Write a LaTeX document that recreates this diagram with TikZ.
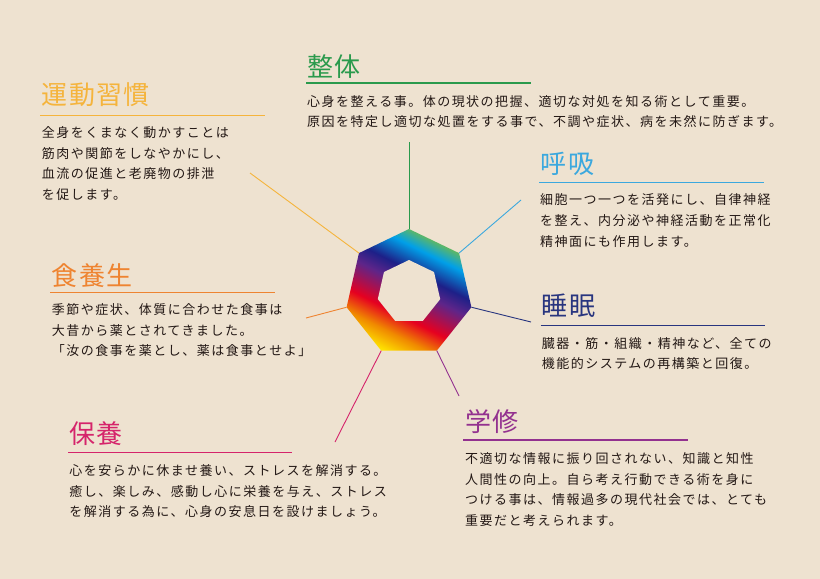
\documentclass[tikz,border=0pt]{standalone}
\usepackage{fontspec}
\setmainfont{Noto Sans CJK JP}
\newfontfamily\headfont[LetterSpace=5]{Noto Sans CJK JP}
\newfontfamily\bodyfont[LetterSpace=11.5]{Noto Sans CJK JP}
\usetikzlibrary{shapes.geometric}

\definecolor{bg}{HTML}{EEE2D0}
\definecolor{ink}{HTML}{231815}
\definecolor{cSeitai}{HTML}{2A9A4C}
\definecolor{cUndo}{HTML}{F5B43C}
\definecolor{cKokyu}{HTML}{3BA8DE}
\definecolor{cShoku}{HTML}{EE8431}
\definecolor{cSuimin}{HTML}{28357F}
\definecolor{cGaku}{HTML}{93318F}
\definecolor{cHoyo}{HTML}{D5246B}
\definecolor{rbYellow}{HTML}{FFE600}
\definecolor{rbOrange}{HTML}{F08A00}
\definecolor{rbRed}{HTML}{E60020}
\definecolor{rbPurple}{HTML}{5E2589}
\definecolor{rbNavy}{HTML}{1D2088}
\definecolor{rbCyan}{HTML}{00A0E9}
\definecolor{rbGreen}{HTML}{8FC31F}

\pgfdeclareverticalshading{rainbow}{100bp}{color(0bp)=(rbYellow); color(26bp)=(rbYellow); color(33.5bp)=(rbOrange); color(41bp)=(rbRed); color(52bp)=(rbPurple); color(58bp)=(rbNavy); color(66.5bp)=(rbCyan); color(75bp)=(rbGreen); color(100bp)=(rbGreen)}

\tikzset{
  hept/.style={regular polygon, regular polygon sides=7, inner sep=0pt, outer sep=0pt},
  heading/.style={anchor=base west, inner sep=0pt, font=\headfont\fontsize{26bp}{30bp}\selectfont},
  body/.style={anchor=base west, inner sep=0pt, align=left, text=ink, font=\bodyfont\fontsize{13bp}{20.5bp}\selectfont},
  rule/.style={line width=1.4bp},
  spoke/.style={line width=0.9bp}
}

\begin{document}
\begin{tikzpicture}[x=1bp,y=-1bp]
\fill[bg] (0,0) rectangle (820,579);

% rainbow ring
\node[hept, minimum size=128bp] (ring) at (409,293) {};
\begin{scope}
  \clip (ring.corner 1) -- (ring.corner 2) -- (ring.corner 3) -- (ring.corner 4)
    -- (ring.corner 5) -- (ring.corner 6) -- (ring.corner 7) -- cycle;
  \shade[shading=rainbow, shading angle=-26.6] (ring.center) circle[radius=66];
\end{scope}
\node[hept, minimum size=64bp, fill=bg] (hole) at (409,292) {};

% seitai
\node[heading, text=cSeitai] (seitai) at (307,76.5) {整体};
\draw[rule, cSeitai] (306,83) -- (531,83);
\node[body] (seitaitxt) at (307,127) {心身を整える事。体の現状の把握、適切な対処を知る術として重要。\\原因を特定し適切な処置をする事で、不調や症状、病を未然に防ぎます。};
\coordinate (seitaiend) at (409,142);
\draw[spoke, cSeitai] (ring.corner 1) -- (seitaiend);

% undo
\node[heading, text=cUndo] (undo) at (41.7,105) {運動習慣};
\draw[rule, cUndo] (40,115.7) -- (265,115.7);
\node[body] (undotxt) at (41.7,199.5) {全身をくまなく動かすことは\\筋肉や関節をしなやかにし、\\血流の促進と老廃物の排泄\\を促します。};
\coordinate (undoend) at (250,173);
\draw[spoke, cUndo] (ring.corner 2) -- (undoend);

% kokyu
\node[heading, text=cKokyu] (kokyu) at (540.7,173.5) {呼吸};
\draw[rule, cKokyu] (539,182.7) -- (764,182.7);
\node[body] (kokyutxt) at (540,246) {細胞一つ一つを活発にし、自律神経\\を整え、内分泌や神経活動を正常化\\精神面にも作用します。};
\coordinate (kokyuend) at (521,200);
\draw[spoke, cKokyu] (ring.corner 7) -- (kokyuend);

% shokuyojo
\node[heading, text=cShoku] (shoku) at (51.7,285) {食養生};
\draw[rule, cShoku] (50,292.7) -- (275,292.7);
\node[body] (shokutxt) at (51.7,355.5) {季節や症状、体質に合わせた食事は\\大昔から薬とされてきました。\\「汝の食事を薬とし、薬は食事とせよ」};
\coordinate (shokuend) at (306,318);
\draw[spoke, cShoku] (ring.corner 3) -- (shokuend);

% suimin
\node[heading, text=cSuimin] (suimin) at (541.7,315.5) {睡眠};
\draw[rule, cSuimin] (540.7,325.7) -- (765,325.7);
\node[body] (suimintxt) at (541.7,368.5) {臓器・筋・組織・精神など、全ての\\機能的システムの再構築と回復。};
\coordinate (suiminend) at (531,322);
\draw[spoke, cSuimin] (ring.corner 6) -- (suiminend);

% gakushu
\node[heading, text=cGaku] (gaku) at (465,431.5) {学修};
\draw[rule, cGaku] (463,440) -- (688,440);
\node[body] (gakutxt) at (465,525) {不適切な情報に振り回されない、知識と知性\\人間性の向上。自ら考え行動できる術を身に\\つける事は、情報過多の現代社会では、とても\\重要だと考えられます。};
\coordinate (gakuend) at (459,396);
\draw[spoke, cGaku] (ring.corner 5) -- (gakuend);

% hoyo
\node[heading, text=cHoyo] (hoyo) at (69.3,443.5) {保養};
\draw[rule, cHoyo] (68.3,452.3) -- (292.3,452.3);
\node[body] (hoyotxt) at (69.3,516.7) {心を安らかに休ませ養い、ストレスを解消する。\\癒し、楽しみ、感動し心に栄養を与え、ストレス\\を解消する為に、心身の安息日を設けましょう。};
\coordinate (hoyoend) at (335,442);
\draw[spoke, cHoyo] (ring.corner 4) -- (hoyoend);
\end{tikzpicture}
\end{document}
